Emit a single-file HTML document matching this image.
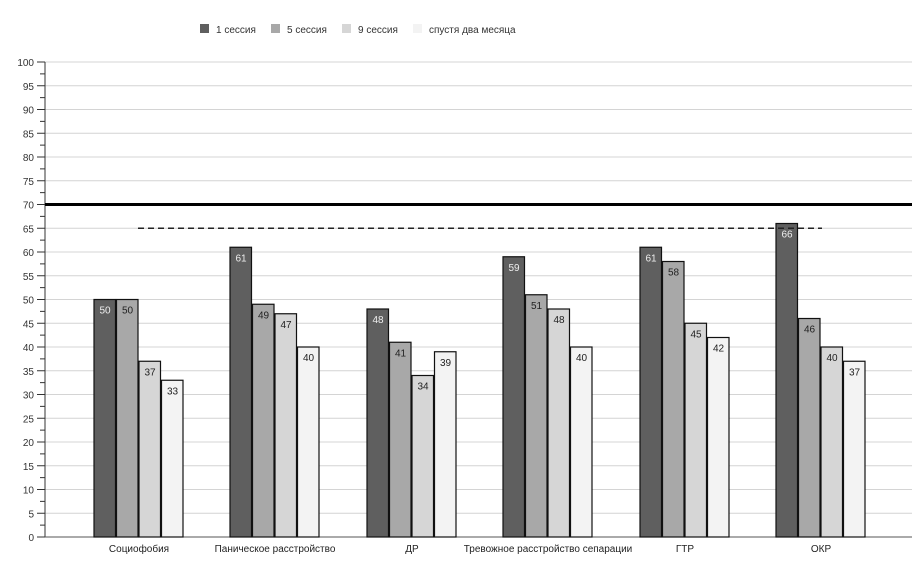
<!DOCTYPE html><html><head><style>body{margin:0;background:#fff}svg{display:block;font-family:"Liberation Sans",sans-serif}</style></head><body>
<svg width="918" height="588" xmlns="http://www.w3.org/2000/svg">
<rect width="918" height="588" fill="#fff"/>
<g font-size="10" fill="#333">
<rect x="200" y="24" width="9" height="9" fill="#5f5f5f"/><text x="216" y="33">1 сессия</text>
<rect x="271" y="24" width="9" height="9" fill="#a8a8a8"/><text x="287" y="33">5 сессия</text>
<rect x="342" y="24" width="9" height="9" fill="#d6d6d6"/><text x="358" y="33">9 сессия</text>
<rect x="413" y="24" width="9" height="9" fill="#f3f3f3"/><text x="429" y="33">спустя два месяца</text>
</g>
<path stroke="#d4d4d4" d="M45 513.25H912M45 489.5H912M45 465.75H912M45 442H912M45 418.25H912M45 394.5H912M45 370.75H912M45 347H912M45 323.25H912M45 299.5H912M45 275.75H912M45 252H912M45 228.25H912M45 180.75H912M45 157H912M45 133.25H912M45 109.5H912M45 85.75H912M45 62H912"/>
<path stroke="#333" d="M37 537H45M37 513.25H45M37 489.5H45M37 465.75H45M37 442H45M37 418.25H45M37 394.5H45M37 370.75H45M37 347H45M37 323.25H45M37 299.5H45M37 275.75H45M37 252H45M37 228.25H45M37 204.5H45M37 180.75H45M37 157H45M37 133.25H45M37 109.5H45M37 85.75H45M37 62H45
M40 525.1H45M40 501.4H45M40 477.6H45M40 453.9H45M40 430.1H45M40 406.4H45M40 382.6H45M40 358.9H45M40 335.1H45M40 311.4H45M40 287.6H45M40 263.9H45M40 240.1H45M40 216.4H45M40 192.6H45M40 168.9H45M40 145.1H45M40 121.4H45M40 97.6H45M40 73.9H45M45 62V537"/>
<line x1="45" x2="912" y1="537" y2="537" stroke="#555"/>
<g font-size="10" text-anchor="end" fill="#333">
<text x="34" y="541">0</text><text x="34" y="517.25">5</text><text x="34" y="493.5">10</text><text x="34" y="469.75">15</text><text x="34" y="446">20</text><text x="34" y="422.25">25</text><text x="34" y="398.5">30</text><text x="34" y="374.75">35</text><text x="34" y="351">40</text><text x="34" y="327.25">45</text><text x="34" y="303.5">50</text><text x="34" y="279.75">55</text><text x="34" y="256">60</text><text x="34" y="232.25">65</text><text x="34" y="208.5">70</text><text x="34" y="184.75">75</text><text x="34" y="161">80</text><text x="34" y="137.25">85</text><text x="34" y="113.5">90</text><text x="34" y="89.75">95</text><text x="34" y="66">100</text>
</g>
<g stroke="#111" stroke-width="1.2">
<g fill="#5f5f5f">
<rect x="94" y="299.5" width="21.5" height="237.5"/><rect x="230" y="247.25" width="21.5" height="289.75"/><rect x="367" y="309" width="21.5" height="228"/><rect x="503" y="256.75" width="21.5" height="280.25"/><rect x="640" y="247.25" width="21.5" height="289.75"/><rect x="776" y="223.5" width="21.5" height="313.5"/>
</g>
<g fill="#a8a8a8">
<rect x="116.5" y="299.5" width="21.5" height="237.5"/><rect x="252.5" y="304.25" width="21.5" height="232.75"/><rect x="389.5" y="342.25" width="21.5" height="194.75"/><rect x="525.5" y="294.75" width="21.5" height="242.25"/><rect x="662.5" y="261.5" width="21.5" height="275.5"/><rect x="798.5" y="318.5" width="21.5" height="218.5"/>
</g>
<g fill="#d6d6d6">
<rect x="139" y="361.25" width="21.5" height="175.75"/><rect x="275" y="313.75" width="21.5" height="223.25"/><rect x="412" y="375.5" width="21.5" height="161.5"/><rect x="548" y="309" width="21.5" height="228"/><rect x="685" y="323.25" width="21.5" height="213.75"/><rect x="821" y="347" width="21.5" height="190"/>
</g>
<g fill="#f3f3f3">
<rect x="161.5" y="380.25" width="21.5" height="156.75"/><rect x="297.5" y="347" width="21.5" height="190"/><rect x="434.5" y="351.75" width="21.5" height="185.25"/><rect x="570.5" y="347" width="21.5" height="190"/><rect x="707.5" y="337.5" width="21.5" height="199.5"/><rect x="843.5" y="361.25" width="21.5" height="175.75"/>
</g>
</g>
<g font-size="10" text-anchor="middle" fill="#eee">
<text x="105" y="313.5">50</text><text x="241" y="261.25">61</text><text x="378" y="323">48</text><text x="514" y="270.75">59</text><text x="651" y="261.25">61</text><text x="787" y="237.5">66</text>
</g>
<g font-size="10" text-anchor="middle" fill="#222">
<text x="127.5" y="313.5">50</text><text x="263.5" y="318.25">49</text><text x="400.5" y="356.25">41</text><text x="536.5" y="308.75">51</text><text x="673.5" y="275.5">58</text><text x="809.5" y="332.5">46</text>
<text x="150" y="375.25">37</text><text x="286" y="327.75">47</text><text x="423" y="389.5">34</text><text x="559" y="323">48</text><text x="696" y="337.25">45</text><text x="832" y="361">40</text>
<text x="172.5" y="394.25">33</text><text x="308.5" y="361">40</text><text x="445.5" y="365.75">39</text><text x="581.5" y="361">40</text><text x="718.5" y="351.5">42</text><text x="854.5" y="375.25">37</text>
<text x="139" y="552">Социофобия</text><text x="275" y="552">Паническое расстройство</text><text x="412" y="552">ДР</text><text x="548" y="552">Тревожное расстройство сепарации</text><text x="685" y="552">ГТР</text><text x="821" y="552">ОКР</text>
</g>
<line x1="45" x2="912" y1="204.5" y2="204.5" stroke="#000" stroke-width="3"/>
<line x1="138" x2="822" y1="228.25" y2="228.25" stroke="#222" stroke-width="1.6" stroke-dasharray="6,4"/>
</svg></body></html>
